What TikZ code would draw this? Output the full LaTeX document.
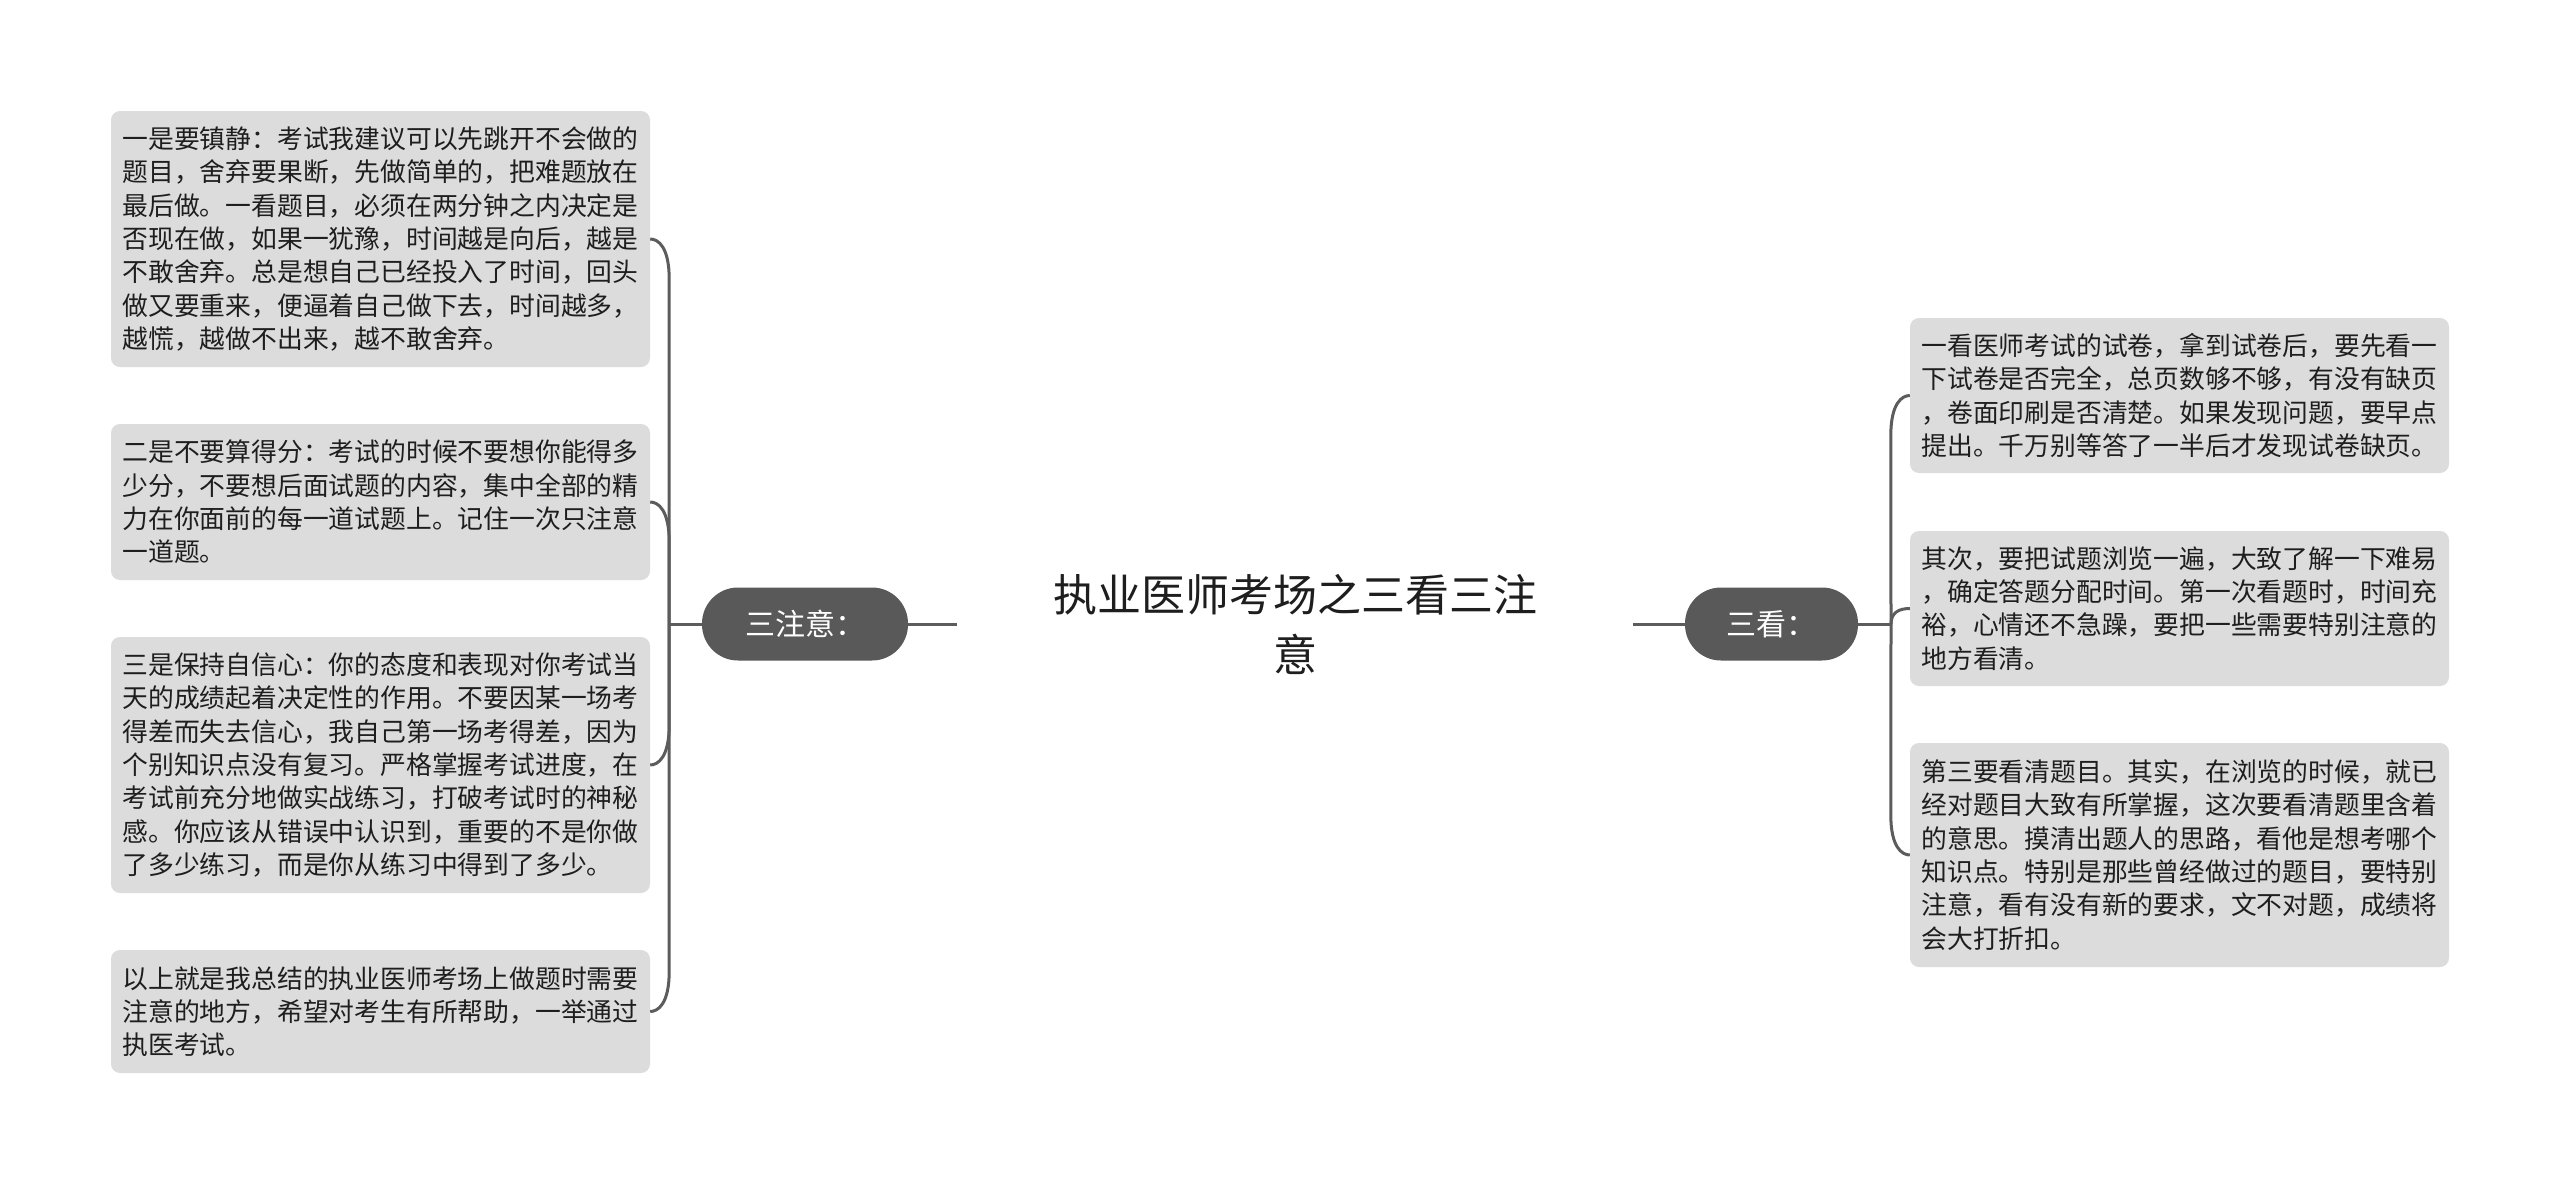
\documentclass[tikz,border=0pt]{standalone}
\usepackage{fontspec}
\newfontfamily\cjk{Noto Sans CJK SC}
\usetikzlibrary{calc}
\definecolor{boxfill}{HTML}{DCDCDC}
\definecolor{pillfill}{HTML}{595959}
\definecolor{linec}{HTML}{5C5C5C}
\definecolor{txt}{HTML}{1E1E1E}
\tikzset{
  leaf/.style={fill=boxfill, rounded corners=9pt, text width=516pt, inner xsep=11.5pt, inner ysep=0pt, align=left, font=\cjk\fontsize{25.8}{33.3}\selectfont, text=txt},
  pill/.style={fill=pillfill, rounded corners=36pt, minimum height=73pt, text=white, font=\cjk\fontsize{30}{36}\selectfont, inner sep=0pt},
  rootnode/.style={minimum width=676pt, minimum height=130pt, align=center, font=\cjk\fontsize{44}{60}\selectfont, text=txt, inner sep=0pt},
  conn/.style={draw=linec, line width=3pt}
}
\begin{document}
\begin{tikzpicture}[x=1pt,y=-1pt]
\useasboundingbox (0,0) rectangle (2560,1186);
\fill[white] (0,0) rectangle (2560,1186);

\node[rootnode] (root) at (1295,624) {执业医师考场之三看三注\\意};
\node[pill, minimum width=206pt] (pillL) at (805,624) {三注意：};
\node[pill, minimum width=173pt] (pillR) at (1771.5,624) {三看：};

\node[leaf, minimum height=256pt] (L1) at (380.5,239) {一是要镇静：考试我建议可以先跳开不会做的\\题目，舍弃要果断，先做简单的，把难题放在\\最后做。一看题目，必须在两分钟之内决定是\\否现在做，如果一犹豫，时间越是向后，越是\\不敢舍弃。总是想自己已经投入了时间，回头\\做又要重来，便逼着自己做下去，时间越多，\\越慌，越做不出来，越不敢舍弃。};
\node[leaf, minimum height=156pt] (L2) at (380.5,502) {二是不要算得分：考试的时候不要想你能得多\\少分，不要想后面试题的内容，集中全部的精\\力在你面前的每一道试题上。记住一次只注意\\一道题。};
\node[leaf, minimum height=256pt] (L3) at (380.5,765) {三是保持自信心：你的态度和表现对你考试当\\天的成绩起着决定性的作用。不要因某一场考\\得差而失去信心，我自己第一场考得差，因为\\个别知识点没有复习。严格掌握考试进度，在\\考试前充分地做实战练习，打破考试时的神秘\\感。你应该从错误中认识到，重要的不是你做\\了多少练习，而是你从练习中得到了多少。};
\node[leaf, minimum height=123pt] (L4) at (380.5,1011.5) {以上就是我总结的执业医师考场上做题时需要\\注意的地方，希望对考生有所帮助，一举通过\\执医考试。};

\node[leaf, minimum height=155pt] (R1) at (2179.5,395.5) {一看医师考试的试卷，拿到试卷后，要先看一\\下试卷是否完全，总页数够不够，有没有缺页\\，卷面印刷是否清楚。如果发现问题，要早点\\提出。千万别等答了一半后才发现试卷缺页。};
\node[leaf, minimum height=155pt] (R2) at (2179.5,608.5) {其次，要把试题浏览一遍，大致了解一下难易\\，确定答题分配时间。第一次看题时，时间充\\裕，心情还不急躁，要把一些需要特别注意的\\地方看清。};
\node[leaf, minimum height=224pt] (R3) at (2179.5,855) {第三要看清题目。其实，在浏览的时候，就已\\经对题目大致有所掌握，这次要看清题里含着\\的意思。摸清出题人的思路，看他是想考哪个\\知识点。特别是那些曾经做过的题目，要特别\\注意，看有没有新的要求，文不对题，成绩将\\会大打折扣。};

\coordinate (lj) at (669,624);
\coordinate (rj) at (1891,624);

\draw[conn] (root.west) -- (pillL.east);
\draw[conn] (root.east) -- (pillR.west);
\draw[conn] (pillL.west) -- (lj);
\draw[conn] (pillR.east) -- (rj);

\draw[conn] (lj) -- ($(L1.east)+(19,40)$) .. controls ($(L1.east)+(19,8)$) and ($(L1.east)+(8,0)$) .. (L1.east);
\draw[conn] (lj) -- ($(L2.east)+(19,40)$) .. controls ($(L2.east)+(19,8)$) and ($(L2.east)+(8,0)$) .. (L2.east);
\draw[conn] (lj) -- ($(L3.east)+(19,-40)$) .. controls ($(L3.east)+(19,-8)$) and ($(L3.east)+(8,0)$) .. (L3.east);
\draw[conn] (lj) -- ($(L4.east)+(19,-40)$) .. controls ($(L4.east)+(19,-8)$) and ($(L4.east)+(8,0)$) .. (L4.east);

\draw[conn] (rj) -- ($(R1.west)+(-19,40)$) .. controls ($(R1.west)+(-19,8)$) and ($(R1.west)+(-8,0)$) .. (R1.west);
\draw[conn] (rj) .. controls ($(rj)+(0,-12)$) and ($(R2.west)+(-10,0)$) .. (R2.west);
\draw[conn] (rj) -- ($(R3.west)+(-19,-40)$) .. controls ($(R3.west)+(-19,-8)$) and ($(R3.west)+(-8,0)$) .. (R3.west);
\end{tikzpicture}
\end{document}
